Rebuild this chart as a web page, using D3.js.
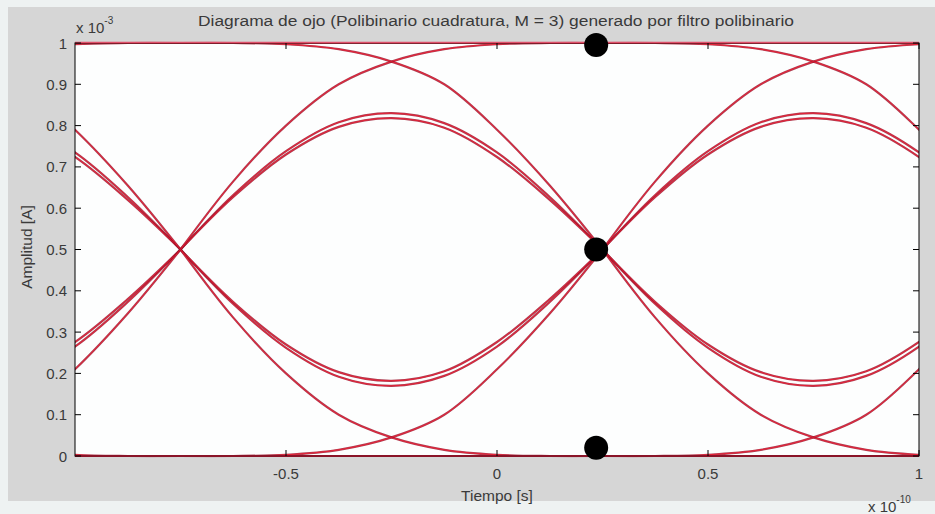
<!DOCTYPE html>
<html><head><meta charset="utf-8">
<script src="https://cdn.jsdelivr.net/npm/d3@7"></script>
<style>body{margin:0;background:#fff;}svg{display:block;font-family:"Liberation Sans",Arial,sans-serif;}</style>
</head><body>
<svg id="c" width="935" height="514"></svg>
<script>
// ---- data ----
// interval phase samples (fraction of a symbol period, between eye crossings)
const phase = [0, 0.125, 0.25, 0.375, 0.5, 0.625, 0.75, 0.875, 1];
// start time of each symbol interval (x 1e-10 s); crossings at -0.75 and 0.25
const intervalStarts = [-1.75, -0.75, 0.25];
// arcs over one interval (amplitude x 1e-3 A)
const upperEyeA = [0.5, 0.632, 0.738, 0.808, 0.83, 0.806, 0.735, 0.627, 0.5];
const upperEyeB = [0.5, 0.627, 0.730, 0.797, 0.818, 0.795, 0.724, 0.620, 0.5];
const lowerEyeA = [0.5, 0.368, 0.262, 0.192, 0.17, 0.194, 0.265, 0.373, 0.5];
const lowerEyeB = [0.5, 0.373, 0.270, 0.203, 0.182, 0.205, 0.276, 0.380, 0.5];
const riseToTop = [0.5, 0.665, 0.80, 0.90, 0.955, 0.985, 0.997, 1, 1];
const fallFromTop = [1, 1, 0.997, 0.985, 0.955, 0.90, 0.79, 0.655, 0.5];
const fallToBottom = [0.5, 0.335, 0.20, 0.10, 0.045, 0.015, 0.003, 0, 0];
const riseFromBottom = [0, 0, 0.003, 0.015, 0.045, 0.10, 0.21, 0.345, 0.5];
const flatTop = [1, 1, 1, 1, 1, 1, 1, 1, 1];
const flatBottom = [0, 0, 0, 0, 0, 0, 0, 0, 0];
const arcs = [upperEyeA, upperEyeB, lowerEyeA, lowerEyeB, riseToTop, fallFromTop, fallToBottom, riseFromBottom, flatTop, flatBottom];
// sample markers
const markerX = [0.235, 0.235, 0.235];
const markerY = [0.995, 0.5, 0.02];
// ticks
const xTicks = [-0.5, 0, 0.5, 1];
const xTickLabels = ["-0.5", "0", "0.5", "1"];
const yTicks = [0, 0.1, 0.2, 0.3, 0.4, 0.5, 0.6, 0.7, 0.8, 0.9, 1];
const yTickLabels = ["0", "0.1", "0.2", "0.3", "0.4", "0.5", "0.6", "0.7", "0.8", "0.9", "1"];
const title = "Diagrama de ojo (Polibinario cuadratura, M = 3) generado por filtro polibinario";

const svg = d3.select("#c");
const L = 75, R = 919, T = 43, B = 456;
const x = d3.scaleLinear().domain([-1, 1]).range([L, R]);
const y = d3.scaleLinear().domain([0, 1]).range([B, T]);
const txt = "#3a3a3a";

// figure background
svg.append("rect").attr("x", 0).attr("y", 0).attr("width", 935).attr("height", 514).attr("fill", "#eef2f2");
svg.append("rect").attr("x", 8).attr("y", 7).attr("width", 927).attr("height", 494).attr("fill", "#d6d6d6");
svg.append("rect").attr("x", L).attr("y", T).attr("width", R - L).attr("height", B - T).attr("fill", "#fdfefe");

svg.append("clipPath").attr("id", "clip").append("rect")
  .attr("x", L).attr("y", T - 1.5).attr("width", R - L).attr("height", B - T + 3);

const line = d3.line().curve(d3.curveCatmullRom.alpha(0.5));
const g = svg.append("g").attr("clip-path", "url(#clip)");
intervalStarts.forEach(c => {
  arcs.forEach(a => {
    const pts = phase.map((p, i) => [x(c + p), y(a[i])]);
    g.append("path").attr("d", line(pts)).attr("fill", "none")
      .attr("stroke", "#9a1028").attr("stroke-width", 2.2).attr("stroke-opacity", 0.8);
    g.append("path").attr("d", line(pts)).attr("fill", "none")
      .attr("stroke", "#ee1e34").attr("stroke-width", 0.9);
  });
});

// axes box
const ax = svg.append("g");
ax.append("rect").attr("x", L).attr("y", T).attr("width", R - L).attr("height", B - T)
  .attr("fill", "none").attr("stroke", "#000").attr("stroke-width", 1);
ax.append("line").attr("x1", L).attr("x2", R).attr("y1", y(1) - 0.5).attr("y2", y(1) - 0.5)
  .attr("stroke", "#e0506a").attr("stroke-width", 1.6);
ax.append("line").attr("x1", L).attr("x2", R).attr("y1", y(0)).attr("y2", y(0))
  .attr("stroke", "#8a1428").attr("stroke-width", 2);
const tl = 6;
xTicks.forEach(v => {
  ax.append("line").attr("x1", x(v)).attr("x2", x(v)).attr("y1", B).attr("y2", B - tl).attr("stroke", "#000");
  ax.append("line").attr("x1", x(v)).attr("x2", x(v)).attr("y1", T).attr("y2", T + tl).attr("stroke", "#000");
});
yTicks.forEach(v => {
  ax.append("line").attr("x1", L).attr("x2", L + tl).attr("y1", y(v)).attr("y2", y(v)).attr("stroke", "#000");
  ax.append("line").attr("x1", R).attr("x2", R - tl).attr("y1", y(v)).attr("y2", y(v)).attr("stroke", "#000");
});
ax.selectAll(".xl").data(xTicks).enter().append("text")
  .attr("x", d => x(d)).attr("y", B + 23).attr("text-anchor", "middle")
  .attr("font-size", 15).attr("fill", txt).text((d, i) => xTickLabels[i]);
ax.selectAll(".yl").data(yTicks).enter().append("text")
  .attr("x", L - 8).attr("y", d => y(d) + 5.5).attr("text-anchor", "end")
  .attr("font-size", 15).attr("fill", txt).text((d, i) => yTickLabels[i]);

// markers
svg.selectAll(".m").data(markerX).enter().append("circle")
  .attr("cx", d => x(d)).attr("cy", (d, i) => y(markerY[i])).attr("r", 12).attr("fill", "#000");

// texts
svg.append("text").attr("x", 198).attr("y", 26).attr("textLength", 596).attr("lengthAdjust", "spacingAndGlyphs")
  .attr("font-size", 15.5).attr("fill", txt).text(title);
const e1 = svg.append("text").attr("x", 76).attr("y", 33).attr("font-size", 15).attr("fill", txt);
e1.append("tspan").text("x 10");
e1.append("tspan").attr("dy", -9).attr("font-size", 10).text("-3");
const e2 = svg.append("text").attr("x", 868).attr("y", 512).attr("font-size", 15).attr("fill", txt);
e2.append("tspan").text("x 10");
e2.append("tspan").attr("dy", -9).attr("font-size", 10).text("-10");
svg.append("text").attr("x", 497).attr("y", 501).attr("text-anchor", "middle")
  .attr("font-size", 15.5).attr("fill", txt).text("Tiempo [s]");
svg.append("text").attr("transform", "translate(32,247) rotate(-90)").attr("text-anchor", "middle")
  .attr("font-size", 15.5).attr("fill", txt).text("Amplitud [A]");
</script>
</body></html>
